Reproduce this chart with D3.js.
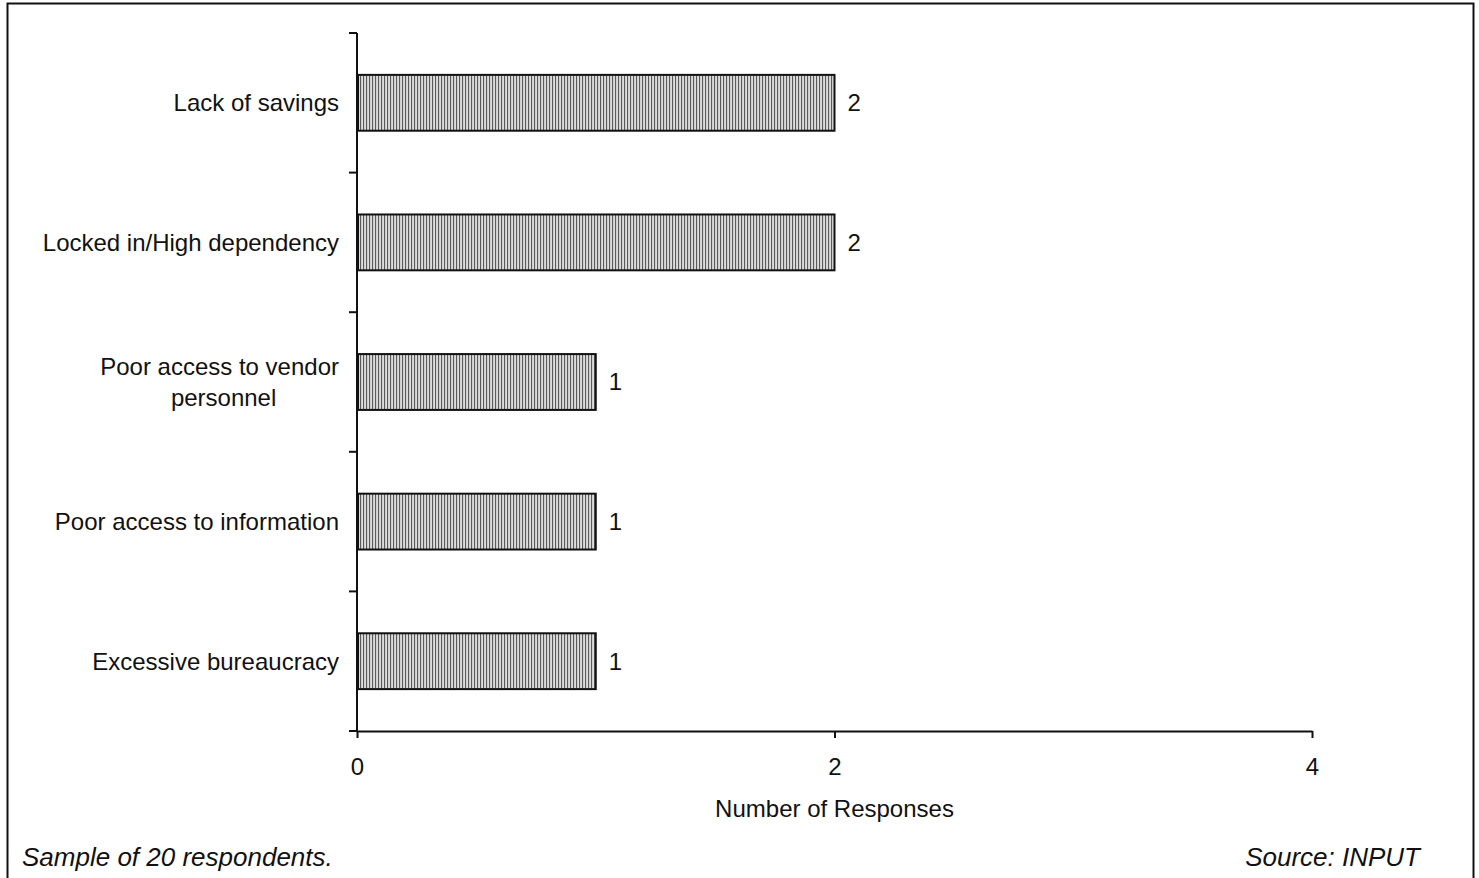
<!DOCTYPE html>
<html>
<head>
<meta charset="utf-8">
<script src="https://cdn.jsdelivr.net/npm/d3@7"></script>
<style>
  body { margin: 0; background: #fff; }
  text { font-family: "Liberation Sans", Arial, sans-serif; fill: #111; }
</style>
</head>
<body>
<div id="chart"></div>
<script>
// categories top to bottom, wrapped labels as line arrays
var categories = ["Lack of savings", "Locked in/High dependency", "Poor access to vendor personnel", "Poor access to information", "Excessive bureaucracy"];
var labelLines = [["Lack of savings"], ["Locked in/High dependency"], ["Poor access to vendor", "personnel"], ["Poor access to information"], ["Excessive bureaucracy"]];
var responses = [2, 2, 1, 1, 1];
var xTicks = [0, 2, 4];

var W = 1479, H = 878;
var margin = {top: 33, left: 357, right: 167, bottom: 147};
var width = W - margin.left - margin.right,
    height = H - margin.top - margin.bottom;
var fs = 24;

var svg = d3.select("#chart")
  .append("svg")
    .attr("width", W)
    .attr("height", H);

// vertical line hatch for the bars
var pat = svg.append("defs").append("pattern")
  .attr("id", "vlines")
  .attr("patternUnits", "userSpaceOnUse")
  .attr("width", 3)
  .attr("height", 10);
pat.append("rect").attr("width", 3).attr("height", 10).attr("fill", "#dcdcdc");
pat.append("rect").attr("x", 0).attr("width", 1.1).attr("height", 10).attr("fill", "#5a5a5a");

// outer frame
svg.append("rect")
  .attr("x", 7.5).attr("y", 3.5)
  .attr("width", 1466).attr("height", 890)
  .attr("fill", "none")
  .attr("stroke", "#111")
  .attr("stroke-width", 2);

var g = svg.append("g")
  .attr("transform", "translate(" + margin.left + "," + margin.top + ")");

var x = d3.scaleLinear()
  .domain([0, 4])
  .range([0, 955]);

var y = d3.scaleBand()
  .domain(categories)
  .range([0, height])
  .paddingInner(0.6)
  .paddingOuter(0.3);

// y axis: line with ticks at band boundaries
var bounds = d3.range(categories.length + 1).map(function(i) { return i * height / categories.length; });
g.append("line")
  .attr("x1", 0).attr("x2", 0)
  .attr("y1", 0).attr("y2", height)
  .attr("stroke", "#111").attr("stroke-width", 2);
g.selectAll(".ytick")
  .data(bounds)
  .enter()
  .append("line")
    .attr("x1", -8).attr("x2", 0)
    .attr("y1", function(d) { return d; })
    .attr("y2", function(d) { return d; })
    .attr("stroke", "#111").attr("stroke-width", 2);

// x axis
var xAxis = g.append("g")
  .attr("transform", "translate(0," + height + ")")
  .call(d3.axisBottom(x).tickValues(xTicks).tickFormat(d3.format("d")).tickSize(7).tickSizeOuter(0).tickPadding(20));
xAxis.select(".domain").attr("stroke", "#111").attr("stroke-width", 2);
xAxis.selectAll(".tick line").attr("stroke", "#111").attr("stroke-width", 2);
xAxis.selectAll("text")
  .attr("font-size", fs)
  .attr("font-family", "Liberation Sans, Arial, sans-serif")
  .attr("fill", "#111");

// bars
g.selectAll(".bar")
  .data(categories)
  .enter()
  .append("rect")
    .attr("x", x(0) + 1)
    .attr("y", function(d) { return y(d); })
    .attr("width", function(d, i) { return x(responses[i]) - x(0) - 1; })
    .attr("height", y.bandwidth())
    .attr("fill", "url(#vlines)")
    .attr("stroke", "#111")
    .attr("stroke-width", 2);

// value labels
g.selectAll(".val")
  .data(categories)
  .enter()
  .append("text")
    .attr("x", function(d, i) { return x(responses[i]) + 13; })
    .attr("y", function(d) { return y(d) + y.bandwidth() / 2; })
    .attr("dy", "0.35em")
    .attr("font-size", fs)
    .text(function(d, i) { return responses[i]; });

// category labels
var labels = g.selectAll(".cat")
  .data(categories)
  .enter()
  .append("g")
    .attr("transform", function(d) { return "translate(-18," + (y(d) + y.bandwidth() / 2) + ")"; });
labels.each(function(d, i) {
  var lines = labelLines[i];
  var sel = d3.select(this);
  if (lines.length === 1) {
    sel.append("text").attr("text-anchor", "end").attr("dy", "0.35em").attr("font-size", fs).text(lines[0]);
  } else {
    var first = sel.append("text").attr("text-anchor", "end").attr("font-size", fs)
      .attr("y", -15).attr("dy", "0.35em").text(lines[0]);
    var w = first.node().getComputedTextLength();
    sel.append("text").attr("text-anchor", "middle").attr("font-size", fs)
      .attr("x", -w / 2 + 4).attr("y", 16).attr("dy", "0.35em").text(lines[1]);
  }
});

// axis title
g.append("text")
  .attr("x", x(2))
  .attr("y", height + 86)
  .attr("text-anchor", "middle")
  .attr("font-size", fs)
  .text("Number of Responses");

// footnotes
svg.append("text")
  .attr("x", 22).attr("y", 866)
  .attr("font-size", 26)
  .attr("font-style", "italic")
  .text("Sample of 20 respondents.");
svg.append("text")
  .attr("x", 1420).attr("y", 866)
  .attr("text-anchor", "end")
  .attr("font-size", 26)
  .attr("font-style", "italic")
  .text("Source: INPUT");
</script>
</body>
</html>
